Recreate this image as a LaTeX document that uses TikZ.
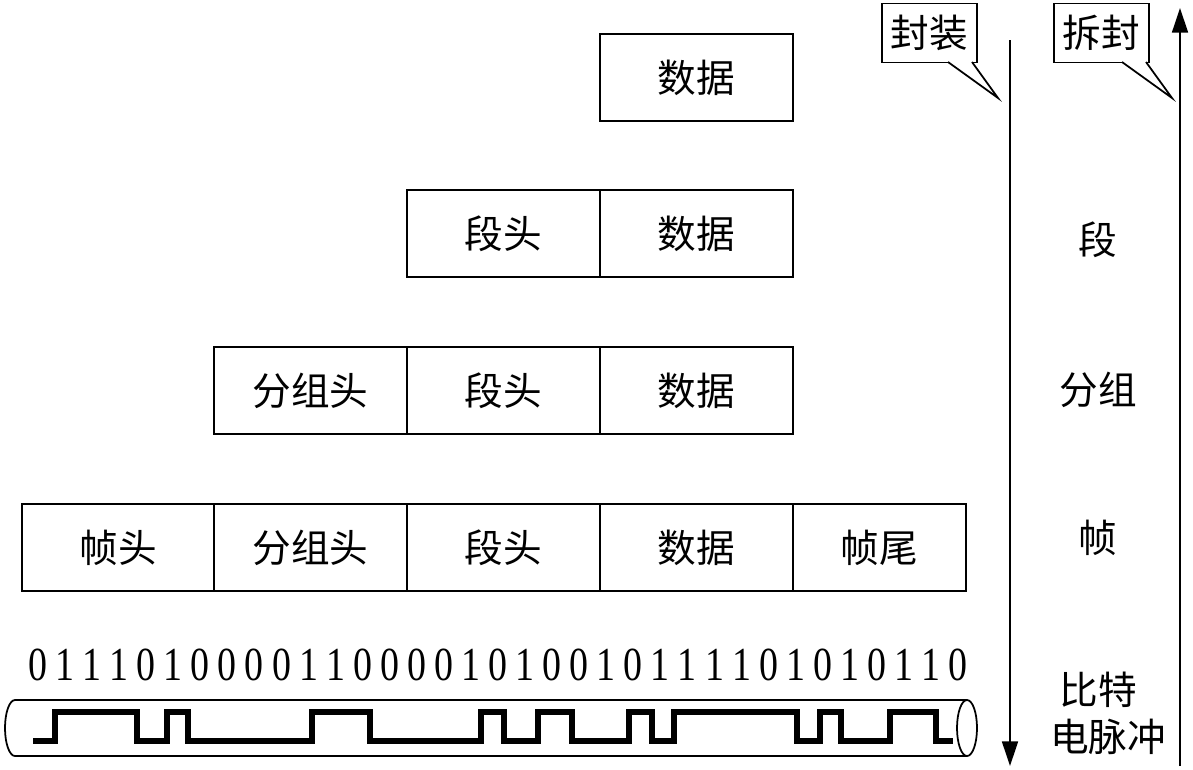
\documentclass[tikz,border=0pt]{standalone}
\usepackage{fontspec}
\newfontfamily\cjk{Noto Sans CJK SC}
\setmainfont{Liberation Serif}
\usetikzlibrary{arrows.meta}

\tikzset{
    cell/.style = {draw, line width = 1pt, minimum height = 1.74cm, inner sep = 0pt, font = \cjk\fontsize{22}{24}\selectfont},
    tag/.style = {font = \cjk\fontsize{22}{24}\selectfont},
    callout/.style = {draw, fill = white, line width = 1pt, minimum width = 1.9cm, minimum height = 1.18cm, inner sep = 0pt, font = \cjk\fontsize{22}{24}\selectfont}
}

\begin{document}
\begin{tikzpicture}[x = 0.02cm, y = -0.02cm]
    \useasboundingbox (0,0) rectangle (1193,769);

    % rows of cells
    \node[cell, minimum width = 3.86cm] (d1) at (696.5,77.5) {数据};

    \node[cell, minimum width = 3.86cm] (s2) at (503.5,233.5) {段头};
    \node[cell, minimum width = 3.86cm] (d2) at (696.5,233.5) {数据};

    \node[cell, minimum width = 3.86cm] (p3) at (310.5,390.5) {分组头};
    \node[cell, minimum width = 3.86cm] (s3) at (503.5,390.5) {段头};
    \node[cell, minimum width = 3.86cm] (d3) at (696.5,390.5) {数据};

    \node[cell, minimum width = 3.84cm] (f4) at (118,547.5) {帧头};
    \node[cell, minimum width = 3.86cm] (p4) at (310.5,547.5) {分组头};
    \node[cell, minimum width = 3.86cm] (s4) at (503.5,547.5) {段头};
    \node[cell, minimum width = 3.86cm] (d4) at (696.5,547.5) {数据};
    \node[cell, minimum width = 3.46cm] (t4) at (879.5,547.5) {帧尾};

    % bits
    \def\bits{0,1,1,1,0,1,0,0,0,0,1,1,0,0,0,0,1,0,1,0,0,1,0,1,1,1,1,0,1,0,1,0,1,1,0}
    \foreach \b [count = \i] in \bits
        \node[font = \fontsize{27}{28}\selectfont, inner sep = 0pt, xscale = 0.8] (bit\i) at ({38 + (\i-1)*27.06}, 665) {\b};

    % cable
    \draw[line width = 1pt] (967,700) -- (15,700) arc[start angle = -90, end angle = -270, x radius = 10, y radius = 28] -- (967,756);
    \draw[line width = 1pt] (967,728) ellipse [x radius = 10, y radius = 28];
    \draw[line width = 3.5pt] (33,741) -- (55,741) -- (55,712) -- (137,712) -- (137,741) -- (167,741) -- (167,712) -- (188,712) -- (188,741)
        -- (312,741) -- (312,712) -- (370,712) -- (370,741) -- (481,741) -- (481,712) -- (504,712) -- (504,741) -- (538,741) -- (538,712)
        -- (572,712) -- (572,741) -- (629,741) -- (629,712) -- (652,712) -- (652,741) -- (674,741) -- (674,712) -- (797,712) -- (797,741)
        -- (820,741) -- (820,712) -- (841,712) -- (841,741) -- (890,741) -- (890,712) -- (936,712) -- (936,741) -- (953,741);

    % side arrows
    \coordinate (dtop) at (1010,40);
    \coordinate (dbot) at (1010,766);
    \coordinate (ubot) at (1180,766);
    \coordinate (utop) at (1180,8);
    \draw[line width = 1.3pt, -{Triangle[length = 14pt, width = 9pt]}] (dtop) -- (dbot);
    \draw[line width = 1.3pt, -{Triangle[length = 14pt, width = 9pt]}] (ubot) -- (utop);

    % callouts
    \node[callout] (wrap) at (929.5,33) {封装};
    \coordinate (wraptip) at (998,98);
    \draw[line width = 1pt, fill = white] (948,62) -- (wraptip) -- (972,62);
    \node[callout] (unwrap) at (1101.5,33) {拆封};
    \coordinate (unwraptip) at (1172,98);
    \draw[line width = 1pt, fill = white] (1122,62) -- (unwraptip) -- (1146,62);

    % layer names
    \node[tag] (seg) at (1098,240) {段};
    \node[tag] (pkt) at (1098,390) {分组};
    \node[tag] (frm) at (1098,538) {帧};
    \node[tag] (bitn) at (1098,690) {比特};
    \node[tag] (pulse) at (1108,737) {电脉冲};
\end{tikzpicture}
\end{document}
